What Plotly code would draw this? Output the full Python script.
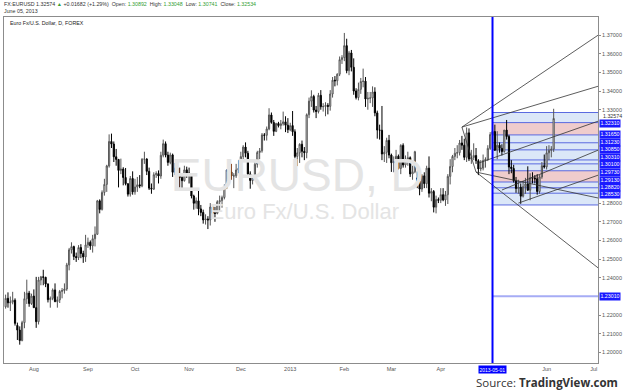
import plotly.graph_objects as go
import pandas as pd

# ---------------- data ----------------
dates = pd.bdate_range("2012-07-16", "2013-07-05")

opens = [
 1.2245,1.2290,1.2266,1.2270,1.2280,1.2145,1.2120,1.2064,1.2160,1.2288,1.2318,1.2262,
 1.2302,1.2240,1.2165,1.2388,1.2405,1.2403,1.2367,1.2283,1.2290,1.2335,1.2272,1.2282,1.2327,1.2332,1.2340,1.2469,1.2550,1.2567,1.2514,1.2508,1.2562,1.2530,1.2512,
 1.2576,1.2590,1.2571,1.2609,1.2633,1.2812,1.2766,1.2857,1.2900,1.2999,1.3130,1.3116,1.3048,1.3034,1.2975,1.2982,1.2937,1.2904,1.2848,1.2932,
 1.2860,1.2886,1.2898,1.2892,1.3035,1.3036,1.2970,1.2880,1.2875,1.2952,1.2958,1.2945,1.3056,1.3118,1.3057,1.3018,1.3058,1.2965,1.2987,1.2955,1.2937,1.2920,1.2978,
 1.2961,1.2947,1.2838,1.2799,1.2812,1.2769,1.2750,1.2710,1.2715,1.2710,1.2779,1.2745,1.2745,1.2807,1.2813,1.2830,1.2882,1.2977,1.2967,1.2945,1.2946,1.2977,
 1.2986,1.3049,1.3100,1.3067,1.2956,1.2921,1.2940,1.3008,1.3071,1.3080,1.3165,1.3163,1.3197,1.3272,1.3232,1.3184,1.3226,1.3215,1.3225,1.3235,1.3217,
 1.3193,1.3215,1.3182,1.3050,1.3069,1.3115,1.3077,1.3070,1.3273,1.3346,1.3371,1.3298,1.3290,1.3377,1.3316,1.3317,1.3323,1.3318,1.3384,1.3458,1.3455,1.3490,1.3568,
 1.3579,1.3643,1.3509,1.3604,1.3527,1.3400,1.3365,1.3409,1.3451,1.3453,1.3357,1.3361,1.3363,1.3395,1.3283,1.3191,1.3190,1.3063,1.3072,1.3136,
 1.3057,1.3016,1.3021,1.3051,1.2985,1.3109,1.3004,1.3026,1.3043,1.2956,1.2968,1.2935,1.2918,1.2875,1.2946,1.2904,1.2987,1.2853,1.2862,1.2778,1.2819,
 1.2815,1.2845,1.2817,1.2845,1.2943,1.2996,1.3050,1.3067,1.3070,1.3122,1.3110,1.3045,1.3176,1.3036,1.3044,1.3055,1.3027,1.2983,1.2987,1.3028,1.3034,1.3093,
 1.3167,1.3183,1.3083,1.3110,1.3093,1.3076,1.3191,1.3156,1.2993,1.2985,1.2920,1.2878,1.2885,1.2837,1.2888,1.2902,1.2869,1.2936,1.2934,1.2930,1.2862,1.2940,1.3000,
 1.2994,1.3069,1.3082,1.3089]
highs = [
 1.2310,1.2322,1.2300,1.2325,1.2290,1.2160,1.2140,1.2170,1.2325,1.2390,1.2330,1.2315,
 1.2338,1.2405,1.2405,1.2410,1.2443,1.2405,1.2370,1.2300,1.2343,1.2370,1.2300,1.2335,1.2345,1.2370,1.2480,1.2560,1.2590,1.2572,1.2535,1.2575,1.2580,1.2545,1.2630,
 1.2615,1.2600,1.2630,1.2675,1.2817,1.2820,1.2868,1.2930,1.3005,1.3168,1.3172,1.3130,1.3090,1.3036,1.3038,1.2992,1.2988,1.2905,1.2945,1.2970,
 1.2930,1.2940,1.2950,1.3040,1.3075,1.3040,1.2990,1.2905,1.2965,1.2970,1.2975,1.3075,1.3140,1.3130,1.3075,1.3070,1.3065,1.3015,1.3020,1.2990,1.2955,1.3000,1.2995,
 1.2990,1.2955,1.2845,1.2830,1.2880,1.2790,1.2765,1.2740,1.2730,1.2800,1.2790,1.2780,1.2815,1.2840,1.2840,1.2900,1.2980,1.2990,1.3010,1.2960,1.3010,1.3030,
 1.3075,1.3110,1.3125,1.3080,1.2970,1.2950,1.3030,1.3080,1.3095,1.3175,1.3175,1.3210,1.3308,1.3285,1.3245,1.3230,1.3235,1.3245,1.3290,1.3265,1.3255,
 1.3230,1.3293,1.3195,1.3095,1.3120,1.3135,1.3100,1.3280,1.3365,1.3404,1.3380,1.3320,1.3390,1.3405,1.3335,1.3340,1.3335,1.3405,1.3475,1.3480,1.3495,1.3585,1.3592,
 1.3711,1.3680,1.3615,1.3620,1.3575,1.3415,1.3445,1.3470,1.3520,1.3475,1.3395,1.3395,1.3425,1.3420,1.3295,1.3220,1.3320,1.3105,1.3150,1.3165,
 1.3065,1.3050,1.3085,1.3060,1.3115,1.3120,1.3055,1.3075,1.3050,1.3000,1.3080,1.2970,1.2965,1.2955,1.2965,1.3000,1.3050,1.2880,1.2870,1.2840,1.2830,
 1.2880,1.2880,1.2865,1.2955,1.3035,1.3058,1.3095,1.3110,1.3138,1.3160,1.3145,1.3205,1.3200,1.3085,1.3120,1.3095,1.3035,1.3030,1.3060,1.3045,1.3110,1.3180,
 1.3242,1.3220,1.3185,1.3125,1.3115,1.3190,1.3245,1.3165,1.3030,1.3005,1.2940,1.2925,1.2905,1.2920,1.2935,1.2997,1.2960,1.2965,1.2950,1.2955,1.2950,1.3020,1.3060,
 1.3105,1.3110,1.3105,1.3305]
lows = [
 1.2235,1.2240,1.2222,1.2258,1.2144,1.2067,1.2042,1.2060,1.2130,1.2260,1.2245,1.2255,
 1.2240,1.2132,1.2150,1.2360,1.2360,1.2350,1.2268,1.2240,1.2280,1.2270,1.2240,1.2265,1.2290,1.2315,1.2330,1.2440,1.2530,1.2495,1.2485,1.2495,1.2505,1.2480,1.2485,
 1.2560,1.2550,1.2535,1.2568,1.2630,1.2745,1.2760,1.2840,1.2860,1.2990,1.3095,1.3020,1.3000,1.2884,1.2955,1.2895,1.2895,1.2835,1.2835,1.2845,
 1.2845,1.2860,1.2880,1.2885,1.3010,1.2950,1.2870,1.2850,1.2870,1.2935,1.2905,1.2930,1.3045,1.3045,1.3000,1.3008,1.2940,1.2950,1.2940,1.2883,1.2880,1.2915,1.2935,
 1.2905,1.2825,1.2765,1.2770,1.2735,1.2730,1.2690,1.2685,1.2661,1.2680,1.2715,1.2700,1.2740,1.2755,1.2775,1.2820,1.2875,1.2935,1.2925,1.2880,1.2935,1.2960,
 1.2975,1.3025,1.3045,1.2935,1.2877,1.2900,1.2925,1.2990,1.3035,1.3070,1.3135,1.3135,1.3190,1.3225,1.3160,1.3180,1.3205,1.3195,1.3215,1.3180,1.3175,
 1.3185,1.3160,1.3040,1.2998,1.3015,1.3045,1.3030,1.3040,1.3255,1.3315,1.3285,1.3255,1.3280,1.3300,1.3290,1.3265,1.3275,1.3295,1.3365,1.3425,1.3430,1.3480,1.3545,
 1.3560,1.3495,1.3485,1.3505,1.3380,1.3355,1.3350,1.3385,1.3420,1.3315,1.3300,1.3335,1.3315,1.3265,1.3145,1.3140,1.3030,1.3020,1.3015,1.3040,
 1.2967,1.2965,1.3005,1.2980,1.2955,1.2990,1.2990,1.3000,1.2940,1.2925,1.2960,1.2880,1.2842,1.2860,1.2880,1.2880,1.2830,1.2810,1.2750,1.2745,1.2800,
 1.2800,1.2810,1.2785,1.2795,1.2900,1.2965,1.3030,1.3040,1.3055,1.3085,1.3030,1.3020,1.3025,1.3010,1.3030,1.3010,1.2950,1.2970,1.2975,1.2990,1.3025,1.3085,
 1.3150,1.3080,1.3035,1.3070,1.3055,1.3070,1.3140,1.2955,1.2960,1.2910,1.2855,1.2850,1.2796,1.2830,1.2850,1.2865,1.2815,1.2905,1.2905,1.2845,1.2850,1.2930,1.2985,
 1.2980,1.3030,1.3045,1.3074]
closes = [
 1.2290,1.2266,1.2270,1.2280,1.2156,1.2120,1.2064,1.2160,1.2288,1.2318,1.2262,1.2302,
 1.2240,1.2165,1.2388,1.2405,1.2403,1.2367,1.2283,1.2290,1.2335,1.2272,1.2282,1.2327,1.2332,1.2340,1.2469,1.2550,1.2567,1.2514,1.2508,1.2562,1.2530,1.2512,1.2576,
 1.2590,1.2571,1.2609,1.2633,1.2812,1.2766,1.2857,1.2900,1.2999,1.3130,1.3116,1.3048,1.3034,1.2975,1.2982,1.2937,1.2904,1.2848,1.2932,1.2860,
 1.2886,1.2898,1.2892,1.3035,1.3036,1.2970,1.2880,1.2875,1.2952,1.2958,1.2945,1.3056,1.3118,1.3057,1.3018,1.3058,1.2965,1.2987,1.2955,1.2937,1.2920,1.2978,1.2961,
 1.2947,1.2838,1.2799,1.2812,1.2769,1.2750,1.2710,1.2715,1.2710,1.2779,1.2745,1.2745,1.2807,1.2813,1.2830,1.2882,1.2977,1.2967,1.2945,1.2946,1.2977,1.2986,
 1.3049,1.3100,1.3067,1.2956,1.2921,1.2940,1.3008,1.3071,1.3080,1.3165,1.3163,1.3197,1.3272,1.3232,1.3184,1.3226,1.3215,1.3225,1.3235,1.3217,1.3193,
 1.3215,1.3182,1.3050,1.3069,1.3115,1.3077,1.3070,1.3273,1.3346,1.3371,1.3298,1.3290,1.3377,1.3316,1.3317,1.3323,1.3318,1.3384,1.3458,1.3455,1.3490,1.3568,1.3579,
 1.3643,1.3509,1.3604,1.3527,1.3400,1.3365,1.3409,1.3451,1.3453,1.3357,1.3361,1.3363,1.3395,1.3283,1.3191,1.3190,1.3063,1.3072,1.3136,1.3057,
 1.3016,1.3021,1.3051,1.2985,1.3109,1.3004,1.3026,1.3043,1.2956,1.2968,1.3075,1.2918,1.2875,1.2946,1.2904,1.2987,1.2853,1.2862,1.2778,1.2819,1.2815,
 1.2845,1.2817,1.2845,1.2943,1.2996,1.3050,1.3067,1.3070,1.3122,1.3110,1.3045,1.3176,1.3036,1.3044,1.3055,1.3027,1.2983,1.2987,1.3028,1.3034,1.3093,1.3167,
 1.3183,1.3083,1.3110,1.3093,1.3076,1.3191,1.3156,1.2993,1.2985,1.2920,1.2878,1.2885,1.2837,1.2888,1.2902,1.2869,1.2936,1.2934,1.2930,1.2862,1.2940,1.3000,1.2994,
 1.3069,1.3082,1.3089,1.3253]

month_ticks = ["2012-08-01", "2012-09-03", "2012-10-01", "2012-11-01", "2012-12-03",
               "2013-01-01", "2013-02-01", "2013-03-01", "2013-04-01", "2013-06-03", "2013-07-01"]
month_labels = ["Aug", "Sep", "Oct", "Nov", "Dec", "2013", "Feb", "Mar", "Apr", "Jun", "Jul"]

# price-scale labels that stay visible (the others sit under the level labels)
price_ticks = [1.20, 1.21, 1.22, 1.24, 1.25, 1.26, 1.27, 1.28,
               1.33, 1.34, 1.35, 1.36, 1.37, 1.38]

# drawing objects
vline_date = "2013-05-01"
box_top, box_bottom = 1.3285, 1.2790
box_levels = [1.3231, 1.3165, 1.3123, 1.3085, 1.3031, 1.3010, 1.2973, 1.2913, 1.2882, 1.2853]
box_labels = ["1.32310", "1.31650", "1.31230", "1.30850", "1.30310", "1.30100",
              "1.29730", "1.29130", "1.28820", "1.28530"]
pink_bands = [(1.3231, 1.3165), (1.2973, 1.2913)]
hline_price, hline_label = 1.2301, "1.23010"
last_price, last_label = 1.32574, "1.32574"
end_date = "2013-07-03"

trend_lines = [
    (("2013-04-12", 1.3207), ("2013-07-03", 1.3700)),
    (("2013-04-12", 1.3207), ("2013-07-03", 1.3426)),
    (("2013-04-12", 1.3207), ("2013-04-22", 1.2966)),
    (("2013-04-22", 1.2966), ("2013-07-03", 1.2452)),
    (("2013-04-22", 1.2966), ("2013-07-03", 1.2827)),
    (("2013-04-23", 1.3014), ("2013-07-03", 1.3239)),
    (("2013-05-07", 1.2870), ("2013-07-03", 1.3084)),
    (("2013-05-16", 1.2800), ("2013-07-03", 1.2950)),
]

# ---------------- figure ----------------
idx = {d.strftime("%Y-%m-%d"): i for i, d in enumerate(dates)}
xs = list(range(len(closes)))
W, H = 625, 392
L, R, T, B = 3, 25, 17, 29
Y0, Y1 = 1.19438, 1.37964


def px(x):
    return (x - L) / (W - L - R)


def py(y):
    return (H - B - y) / (H - T - B)


def price_to_pix(p):
    return T + (Y1 - p) / (Y1 - Y0) * (H - T - B)


FONT = "Liberation Sans"
fig = go.Figure()

# watermark (behind candles)
fig.add_trace(go.Scatter(x=[124], y=[1.2925], mode="text", text=["EURUSD, D"],
                         textfont=dict(family=FONT, size=46, color="#e4e4e4"),
                         hoverinfo="skip", showlegend=False))
fig.add_trace(go.Scatter(x=[127], y=[1.2745], mode="text", text=["Euro Fx/U.S. Dollar"],
                         textfont=dict(family=FONT, size=22, color="#e4e4e4"),
                         hoverinfo="skip", showlegend=False))

fig.add_trace(go.Candlestick(
    x=xs, open=opens, high=highs, low=lows, close=closes,
    increasing=dict(line=dict(color="#555555", width=1), fillcolor="#ffffff"),
    decreasing=dict(line=dict(color="#000000", width=1), fillcolor="#000000"),
    whiskerwidth=0, showlegend=False, hoverinfo="skip"))

for (d0, p0), (d1, p1) in trend_lines:
    fig.add_trace(go.Scatter(x=[idx[d0], idx[d1]], y=[p0, p1], mode="lines",
                             line=dict(color="#333333", width=0.8),
                             hoverinfo="skip", showlegend=False))

xv = idx[vline_date]
xe = idx[end_date]
shapes = []
shapes.append(dict(type="rect", xref="x", yref="y", x0=xv, x1=xe + 1, y0=box_bottom, y1=box_top,
                   fillcolor="#dbe7f8", line=dict(width=0), layer="below"))
for a, b in pink_bands:
    shapes.append(dict(type="rect", xref="x", yref="y", x0=xv, x1=xe + 1, y0=b, y1=a,
                       fillcolor="#efcccc", line=dict(width=0), layer="below"))
for p in [box_top] + box_levels + [box_bottom]:
    shapes.append(dict(type="line", xref="x", yref="y", x0=xv, x1=xe + 1, y0=p, y1=p,
                       line=dict(color="#5a6ae0", width=1), layer="below"))
shapes.append(dict(type="line", xref="x", yref="y", x0=xv, x1=xe + 1, y0=hline_price, y1=hline_price,
                   line=dict(color="#a6acf5", width=2)))
shapes.append(dict(type="line", xref="x", yref="paper", x0=xv, x1=xv, y0=0, y1=1,
                   line=dict(color="#0000ff", width=2)))

# right-axis labels, stacked so they do not overlap (as the price scale does)
items = [(last_price, last_label, False)] + [(p, t, True) for p, t in zip(box_levels, box_labels)]
ys0 = [price_to_pix(p) for p, _, _ in items]
ys = list(ys0)
GAP = 7.3
for _ in range(300):
    moved = False
    for i in range(1, len(ys)):
        d = ys[i] - ys[i - 1]
        if d < GAP - 1e-6:
            s = (GAP - d) / 2
            ys[i - 1] -= s
            ys[i] += s
            moved = True
    if not moved:
        break

ann = []
for (p, t, boxed), y_orig, y_new in zip(items, ys0, ys):
    if boxed:
        ann.append(dict(xref="paper", yref="y", x=1, y=p, xanchor="left", yanchor="middle",
                        xshift=1, yshift=-(y_new - y_orig), text=t, showarrow=False,
                        bgcolor="#1a1aff", borderpad=0.4,
                        font=dict(family=FONT, size=5.3, color="white")))
    else:
        ann.append(dict(xref="paper", yref="y", x=1, y=p, xanchor="left", yanchor="middle",
                        xshift=3, yshift=-(y_new - y_orig), text=t, showarrow=False,
                        font=dict(family=FONT, size=5.3, color="#333333")))
ann.append(dict(xref="paper", yref="y", x=1, y=hline_price, xanchor="left", yanchor="middle",
                xshift=1, text=hline_label, showarrow=False, bgcolor="#1a1aff", borderpad=0.4,
                font=dict(family=FONT, size=5.3, color="white")))
ann.append(dict(xref="x", yref="paper", x=xv, y=0, xanchor="center", yanchor="top",
                yshift=-2, text="2013-05-01", showarrow=False, bgcolor="#0000ff", borderpad=0.5,
                font=dict(family=FONT, size=5, color="white")))

green = "#33a033"
header = ("FX:EURUSD 1.32574 <span style='color:%s'>▲</span> +0.01682 (+1.29%%)  "
          "Open: <span style='color:%s'>1.30892</span>  High: <span style='color:%s'>1.33048</span>  "
          "Low: <span style='color:%s'>1.30741</span>  Close: <span style='color:%s'>1.32534</span>"
          % (green, green, green, green, green))
ann.append(dict(xref="paper", yref="paper", x=px(1), y=py(4.5), xanchor="left", yanchor="middle",
                text=header, showarrow=False, font=dict(family=FONT, size=5.3, color="#333333")))
ann.append(dict(xref="paper", yref="paper", x=px(1), y=py(11), xanchor="left", yanchor="middle",
                text="June 05, 2013", showarrow=False, font=dict(family=FONT, size=5.3, color="#333333")))
ann.append(dict(xref="paper", yref="paper", x=px(7), y=py(23), xanchor="left", yanchor="middle",
                text="Euro Fx/U.S. Dollar, D, FOREX", showarrow=False,
                font=dict(family=FONT, size=5.3, color="#222222")))
ann.append(dict(xref="paper", yref="paper", x=px(622), y=py(382), xanchor="right", yanchor="middle",
                text="Source: <b>TradingView.com</b>", showarrow=False,
                font=dict(family="Open Sans", size=11.5, color="#333333")))

fig.update_layout(
    width=W, height=H, margin=dict(l=L, r=R, t=T, b=B),
    paper_bgcolor="white", plot_bgcolor="white", showlegend=False,
    shapes=shapes, annotations=ann,
    xaxis=dict(range=[-0.69, 251.85], rangeslider=dict(visible=False), showgrid=False,
               zeroline=False, showline=True, linecolor="#8c8c8c", linewidth=1, mirror=True,
               tickvals=[idx[d] for d in month_ticks], ticktext=month_labels, ticks="",
               tickfont=dict(family=FONT, size=5.5, color="#555555")),
    yaxis=dict(range=[Y0, Y1], side="right", showgrid=False, zeroline=False,
               showline=True, linecolor="#8c8c8c", linewidth=1, mirror=True,
               tickvals=price_ticks, ticktext=["%.5f" % v for v in price_ticks],
               ticks="outside", ticklen=2, tickcolor="#8c8c8c",
               tickfont=dict(family=FONT, size=5.5, color="#555555")),
)

fig.write_html("out.html")
